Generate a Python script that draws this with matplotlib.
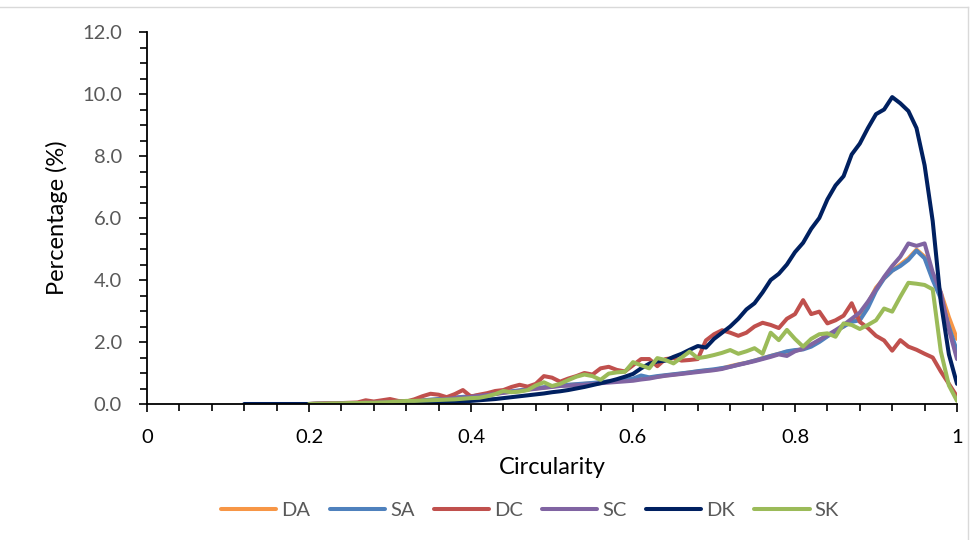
import numpy as np
import matplotlib.pyplot as plt
from matplotlib.lines import Line2D
from matplotlib.ticker import MultipleLocator, FormatStrFormatter

# Кругова форма частинок: відсоток від загальної кількості
x = np.round(np.arange(0.20, 1.0001, 0.01), 2)
x_dk = np.round(np.arange(0.12, 1.0001, 0.01), 2)

da = [0.00, 0.01, 0.01, 0.02, 0.02, 0.03, 0.03, 0.04, 0.05, 0.05,
      0.06, 0.07, 0.08, 0.09, 0.11, 0.13, 0.15, 0.17, 0.20, 0.22,
      0.24, 0.27, 0.30, 0.33, 0.37, 0.40, 0.43, 0.47, 0.50, 0.53,
      0.56, 0.60, 0.61, 0.63, 0.65, 0.67, 0.70, 0.72, 0.74, 0.76,
      0.78, 0.82, 0.85, 0.88, 0.92, 0.95, 0.98, 1.02, 1.05, 1.08,
      1.10, 1.15, 1.22, 1.28, 1.33, 1.40, 1.48, 1.55, 1.62, 1.68,
      1.72, 1.78, 1.90, 2.05, 2.20, 2.35, 2.50, 2.70, 2.85, 3.25,
      3.75, 4.05, 4.30, 4.50, 4.70, 4.98, 4.75, 4.10, 3.60, 2.80,
      2.10]
sa = [0.00, 0.01, 0.01, 0.02, 0.02, 0.03, 0.03, 0.04, 0.05, 0.06,
      0.07, 0.08, 0.09, 0.10, 0.12, 0.14, 0.16, 0.18, 0.21, 0.23,
      0.25, 0.28, 0.31, 0.34, 0.38, 0.41, 0.44, 0.48, 0.51, 0.54,
      0.57, 0.60, 0.62, 0.64, 0.66, 0.68, 0.70, 0.73, 0.75, 0.78,
      0.82, 0.92, 0.86, 0.90, 0.93, 0.96, 0.99, 1.02, 1.06, 1.09,
      1.12, 1.16, 1.20, 1.27, 1.33, 1.40, 1.47, 1.55, 1.62, 1.70,
      1.74, 1.76, 1.85, 2.00, 2.18, 2.35, 2.50, 2.65, 2.70, 3.10,
      3.65, 4.05, 4.30, 4.45, 4.65, 4.95, 4.70, 4.00, 3.40, 2.50,
      1.70]
dc = [0.00, 0.01, 0.02, 0.02, 0.03, 0.04, 0.05, 0.12, 0.08, 0.12,
      0.16, 0.10, 0.08, 0.15, 0.25, 0.33, 0.30, 0.22, 0.32, 0.45,
      0.24, 0.30, 0.35, 0.42, 0.45, 0.55, 0.62, 0.56, 0.65, 0.90,
      0.85, 0.72, 0.82, 0.90, 1.00, 0.95, 1.15, 1.20, 1.10, 1.05,
      1.25, 1.45, 1.45, 1.22, 1.45, 1.48, 1.40, 1.42, 1.45, 2.05,
      2.25, 2.38, 2.30, 2.20, 2.30, 2.50, 2.62, 2.55, 2.45, 2.75,
      2.90, 3.35, 2.90, 2.98, 2.60, 2.70, 2.85, 3.25, 2.65, 2.45,
      2.20, 2.05, 1.72, 2.06, 1.85, 1.75, 1.62, 1.50, 1.05, 0.65,
      0.24]
sc = [0.00, 0.01, 0.01, 0.01, 0.02, 0.02, 0.03, 0.04, 0.04, 0.05,
      0.06, 0.07, 0.08, 0.09, 0.10, 0.12, 0.14, 0.16, 0.19, 0.21,
      0.23, 0.26, 0.29, 0.32, 0.36, 0.39, 0.42, 0.46, 0.49, 0.52,
      0.55, 0.58, 0.59, 0.61, 0.62, 0.64, 0.67, 0.69, 0.71, 0.73,
      0.75, 0.79, 0.82, 0.87, 0.91, 0.94, 0.97, 1.00, 1.03, 1.06,
      1.09, 1.13, 1.20, 1.26, 1.32, 1.38, 1.45, 1.52, 1.60, 1.55,
      1.70, 1.78, 1.92, 2.07, 2.22, 2.38, 2.55, 2.75, 2.95, 3.30,
      3.70, 4.10, 4.45, 4.75, 5.18, 5.10, 5.18, 4.25, 3.60, 2.40,
      1.45]
dk = [0.00, 0.00, 0.00, 0.00, 0.00, 0.00, 0.00, 0.00, 0.00, 0.00,
      0.00, 0.00, 0.00, 0.00, 0.00, 0.00, 0.00, 0.00, 0.00, 0.00,
      0.01, 0.01, 0.02, 0.03, 0.04, 0.05, 0.06, 0.08, 0.10, 0.12,
      0.14, 0.16, 0.19, 0.22, 0.25, 0.28, 0.31, 0.34, 0.38, 0.41,
      0.45, 0.50, 0.55, 0.61, 0.67, 0.73, 0.80, 0.88, 0.97, 1.15,
      1.30, 1.37, 1.40, 1.52, 1.62, 1.75, 1.87, 1.82, 2.10, 2.30,
      2.50, 2.75, 3.05, 3.25, 3.60, 4.00, 4.20, 4.50, 4.90, 5.20,
      5.65, 6.00, 6.60, 7.05, 7.35, 8.05, 8.40, 8.90, 9.35, 9.50,
      9.90, 9.70, 9.45, 8.90, 7.70, 5.90, 3.30, 1.60, 0.65]
sk = [0.00, 0.01, 0.01, 0.02, 0.02, 0.03, 0.03, 0.04, 0.04, 0.05,
      0.06, 0.08, 0.10, 0.10, 0.11, 0.12, 0.13, 0.14, 0.15, 0.17,
      0.19, 0.20, 0.25, 0.32, 0.42, 0.38, 0.40, 0.45, 0.60, 0.70,
      0.58, 0.65, 0.77, 0.88, 0.95, 0.90, 0.78, 0.98, 1.02, 1.04,
      1.35, 1.25, 1.15, 1.48, 1.42, 1.31, 1.50, 1.69, 1.48, 1.52,
      1.58, 1.65, 1.74, 1.62, 1.70, 1.80, 1.62, 2.30, 2.06, 2.39,
      2.10, 1.85, 2.10, 2.25, 2.28, 2.17, 2.60, 2.55, 2.42, 2.55,
      2.70, 3.08, 2.98, 3.46, 3.91, 3.88, 3.84, 3.70, 1.70, 0.60,
      0.10]

labels = ['DA', 'SA', 'DC', 'SC', 'DK', 'SK']
colors = ['#F79646', '#4F81BD', '#C0504D', '#8064A2', '#002060', '#9BBB59']

plt.rcParams['font.family'] = ['Lato', 'DejaVu Sans']

fig = plt.figure(figsize=(9.78, 5.4), dpi=100)
ax = fig.add_axes([147 / 978, 1 - 404 / 540, 810 / 978, 372 / 540])

series = [(x, da), (x, sa), (x, dc), (x, sc), (x_dk, dk), (x, sk)]
for (xs, ys), lab, col in zip(series, labels, colors):
    ax.plot(xs, ys, color=col, linewidth=2.9, label=lab,
            solid_joinstyle='round', solid_capstyle='round')

ax.set_xlim(0, 1)
ax.set_ylim(0, 12)
ax.xaxis.set_major_locator(MultipleLocator(0.2))
ax.xaxis.set_minor_locator(MultipleLocator(0.04))
ax.yaxis.set_major_locator(MultipleLocator(2))
ax.yaxis.set_minor_locator(MultipleLocator(0.5))
ax.yaxis.set_major_formatter(FormatStrFormatter('%.1f'))
ax.set_xticks([0, 0.2, 0.4, 0.6, 0.8, 1.0])
ax.set_xticklabels(['0', '0.2', '0.4', '0.6', '0.8', '1'])

for s in ['top', 'right']:
    ax.spines[s].set_visible(False)
for s in ['left', 'bottom']:
    ax.spines[s].set_linewidth(1.3)
    ax.spines[s].set_color('black')

ax.tick_params(axis='both', which='major', length=6, width=1.2, direction='out')
ax.tick_params(axis='both', which='minor', length=5, width=1.2, direction='out')
ax.tick_params(axis='x', which='major', pad=12, labelsize=14.5, labelcolor='black')
ax.tick_params(axis='y', which='major', pad=12, labelsize=14.5, labelcolor='#595959')

ax.set_xlabel('Circularity', fontsize=17, labelpad=8)
ax.set_ylabel('Percentage (%)', fontsize=17, labelpad=10)

fig.legend(loc='center', bbox_to_anchor=(530 / 978, 1 - 510 / 540), ncol=6,
           frameon=False, fontsize=14.5, handlelength=2.75, handletextpad=0.25,
           columnspacing=0.95, labelcolor='#595959')

# рамка області діаграми
fig.add_artist(Line2D([0, 968 / 978], [1 - 7 / 540, 1 - 7 / 540],
                      color='#D9D9D9', linewidth=1, transform=fig.transFigure))
fig.add_artist(Line2D([968 / 978, 968 / 978], [0, 1 - 7 / 540],
                      color='#D9D9D9', linewidth=1, transform=fig.transFigure))

fig.savefig('out.png', dpi=100)
